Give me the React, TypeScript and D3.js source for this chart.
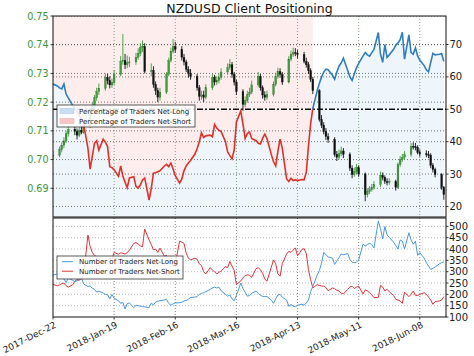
import React from "react";
import * as d3 from "d3";

// ---------- DATA ----------
const firstOpen = 0.701;
const closes = [0.7015,
  0.7035, 0.7050, 0.7065, 0.7090, 0.7105,
  0.7098, 0.7085, 0.7102, 0.7095, 0.7118,
  0.7168, 0.7185, 0.7215, 0.7237, 0.7248,
  0.7286, 0.7275, 0.7260, 0.7268, 0.7297,
  0.7342, 0.7345, 0.7330, 0.7338, 0.7340,
  0.7356, 0.7370, 0.7390, 0.7394, 0.7307,
  0.7310, 0.7262, 0.7240, 0.7217, 0.7235,
  0.7297, 0.7345, 0.7377, 0.7394, 0.7384,
  0.7356, 0.7340, 0.7314, 0.7300, 0.7290,
  0.7250, 0.7220, 0.7225, 0.7217, 0.7250,
  0.7286, 0.7270, 0.7275, 0.7286, 0.7305,
  0.7320, 0.7330, 0.7297, 0.7270, 0.7237,
  0.7192, 0.7205, 0.7227, 0.7235, 0.7260,
  0.7290, 0.7250, 0.7225, 0.7217, 0.7227,
  0.7262, 0.7290, 0.7307, 0.7297, 0.7270,
  0.7350, 0.7367, 0.7373, 0.7370, 0.7366,
  0.7342, 0.7330, 0.7310, 0.7280, 0.7240,
  0.7140, 0.7120, 0.7098, 0.7080, 0.7070,
  0.7018, 0.7008, 0.7020, 0.7030, 0.7018,
  0.6970, 0.6948, 0.6958, 0.6972, 0.6950,
  0.6878, 0.6889, 0.6895, 0.6903, 0.6913,
  0.6945, 0.6938, 0.6924, 0.6920, 0.6924,
  0.6903, 0.6983, 0.7000, 0.7008, 0.7018,
  0.7046, 0.7045, 0.7043, 0.7025, 0.7020,
  0.7018, 0.7015, 0.6980, 0.6965, 0.6948,
  0.6903, 0.6878];
const highs = [0.7030,
  0.7045, 0.7060, 0.7078, 0.7100, 0.7118,
  0.7115, 0.7108, 0.7112, 0.7118, 0.7130,
  0.7175, 0.7198, 0.7225, 0.7250, 0.7265,
  0.7300, 0.7298, 0.7290, 0.7282, 0.7312,
  0.7360, 0.7437, 0.7368, 0.7362, 0.7358,
  0.7372, 0.7388, 0.7405, 0.7415, 0.7405,
  0.7335, 0.7325, 0.7272, 0.7250, 0.7250,
  0.7305, 0.7355, 0.7390, 0.7420, 0.7410,
  0.7395, 0.7368, 0.7348, 0.7325, 0.7315,
  0.7298, 0.7260, 0.7240, 0.7240, 0.7262,
  0.7298, 0.7295, 0.7290, 0.7300, 0.7318,
  0.7335, 0.7350, 0.7340, 0.7305, 0.7278,
  0.7245, 0.7220, 0.7240, 0.7250, 0.7275,
  0.7305, 0.7298, 0.7258, 0.7238, 0.7240,
  0.7272, 0.7302, 0.7320, 0.7318, 0.7305,
  0.7360, 0.7380, 0.7390, 0.7388, 0.7382,
  0.7375, 0.7355, 0.7340, 0.7318, 0.7288,
  0.7245, 0.7155, 0.7130, 0.7110, 0.7092,
  0.7078, 0.7030, 0.7035, 0.7045, 0.7040,
  0.7025, 0.6980, 0.6972, 0.6985, 0.6980,
  0.6955, 0.6900, 0.6908, 0.6915, 0.6925,
  0.6958, 0.6955, 0.6945, 0.6935, 0.6935,
  0.6930, 0.6990, 0.7012, 0.7020, 0.7030,
  0.7058, 0.7060, 0.7058, 0.7050, 0.7035,
  0.7032, 0.7030, 0.7022, 0.6988, 0.6972,
  0.6952, 0.6908];
const lows = [0.7000,
  0.7008, 0.7025, 0.7040, 0.7058, 0.7080,
  0.7085, 0.7070, 0.7078, 0.7088, 0.7090,
  0.7110, 0.7160, 0.7178, 0.7205, 0.7225,
  0.7240, 0.7262, 0.7248, 0.7250, 0.7260,
  0.7290, 0.7330, 0.7315, 0.7318, 0.7322,
  0.7330, 0.7348, 0.7360, 0.7375, 0.7300,
  0.7290, 0.7250, 0.7225, 0.7200, 0.7205,
  0.7228, 0.7290, 0.7338, 0.7370, 0.7372,
  0.7345, 0.7328, 0.7305, 0.7285, 0.7278,
  0.7240, 0.7205, 0.7208, 0.7200, 0.7210,
  0.7242, 0.7258, 0.7260, 0.7265, 0.7278,
  0.7295, 0.7312, 0.7285, 0.7258, 0.7225,
  0.7170, 0.7182, 0.7198, 0.7218, 0.7228,
  0.7252, 0.7240, 0.7212, 0.7205, 0.7208,
  0.7220, 0.7255, 0.7282, 0.7285, 0.7260,
  0.7265, 0.7342, 0.7358, 0.7360, 0.7352,
  0.7335, 0.7320, 0.7298, 0.7270, 0.7228,
  0.7132, 0.7110, 0.7088, 0.7068, 0.7058,
  0.7010, 0.6995, 0.7000, 0.7012, 0.7005,
  0.6960, 0.6935, 0.6940, 0.6950, 0.6940,
  0.6855, 0.6868, 0.6880, 0.6888, 0.6895,
  0.6905, 0.6928, 0.6915, 0.6910, 0.6912,
  0.6892, 0.6898, 0.6975, 0.6992, 0.7000,
  0.7010, 0.7035, 0.7032, 0.7018, 0.7010,
  0.7008, 0.7005, 0.6970, 0.6955, 0.6938,
  0.6895, 0.6860];

const pctLong = [57.8,
  57.2, 56.6, 56.3, 57.8, 54.7, 53.5,
  51.2, 50.2, 49.3, 48.2, 47.0, 45.5,
  38.0, 31.5, 35.5, 39.5, 40.3, 37.4,
  40.8, 39.8, 38.5, 32.3, 32.0, 31.3,
  29.3, 32.5, 29.3, 27.5, 25.8, 28.8,
  29.2, 26.2, 25.7, 26.6, 28.2, 28.8,
  22.0, 25.5, 30.3, 30.4, 30.7, 31.0,
  32.5, 33.0, 32.3, 33.4, 31.6, 29.5,
  27.2, 28.5, 31.0, 32.5, 33.4, 34.2,
  36.2, 37.8, 40.0, 42.7, 41.3, 41.8,
  42.0, 41.5, 45.3, 44.2, 43.5, 43.1,
  40.0, 36.8, 35.7, 34.7, 37.5, 46.0,
  49.5, 45.5, 41.0, 42.5, 43.0, 41.0,
  40.3, 39.5, 39.3, 41.0, 42.3, 41.0,
  36.0, 33.8, 32.5, 37.0, 40.8, 38.0,
  28.5, 27.7, 28.7, 28.0, 28.2, 28.0,
  28.3, 28.2, 30.5, 38.5, 45.5, 50.3,
  55.7, 58.0, 60.0, 61.5, 62.4, 62.2,
  60.5, 59.3, 61.5, 63.3, 64.3, 65.8,
  62.0, 60.0, 58.9, 61.0, 62.8, 64.2,
  66.5, 67.5, 66.8, 66.4, 67.5, 68.5,
  73.7, 67.0, 64.5, 70.0, 66.0, 66.8,
  68.5, 69.8, 70.5, 71.5, 73.8, 65.5,
  73.0, 67.5, 67.0, 69.0, 66.5, 65.2,
  63.5, 62.2, 61.6, 64.5, 67.3, 66.8,
  67.0, 67.2, 64.8];

const tradersLong = [285,
  290, 292, 280, 268, 252, 272,
  262, 256, 260, 266, 275, 246,
  235, 237, 227, 222, 210, 214,
  206, 200, 198, 180, 200, 182,
  172, 160, 165, 135, 160, 162,
  141, 152, 150, 148, 146, 145,
  141, 161, 153, 165, 170, 172,
  175, 178, 160, 152, 158, 162,
  163, 165, 171, 173, 178, 186,
  188, 190, 200, 204, 208, 212,
  222, 228, 232, 228, 232, 216,
  200, 192, 197, 180, 172, 195,
  250, 225, 210, 192, 195, 205,
  214, 205, 196, 191, 190, 190,
  175, 160, 180, 197, 200, 188,
  175, 147, 155, 148, 145, 152,
  156, 152, 162, 175, 212, 235,
  285, 305, 338, 385, 375, 365,
  360, 332, 348, 362, 378, 375,
  380, 354, 342, 340, 342, 352,
  422, 413, 420, 425, 420, 405,
  523, 490, 445, 500, 462, 452,
  430, 415, 400, 440, 435, 400,
  472, 440, 421, 435, 372, 384,
  360, 340, 325, 310, 315, 320,
  335, 340, 343];

const tradersShort = [244,
  238, 242, 247, 250, 238, 232,
  242, 258, 265, 262, 270, 285,
  462, 412, 385, 372, 366, 355,
  345, 338, 352, 360, 355, 385,
  377, 383, 381, 378, 384, 395,
  425, 428, 422, 414, 410, 488,
  440, 420, 397, 399, 385, 404,
  368, 372, 360, 340, 325, 335,
  435, 430, 425, 382, 360, 352,
  360, 355, 335, 328, 300, 290,
  318, 307, 300, 290, 297, 303,
  322, 318, 345, 325, 305, 243,
  259, 272, 283, 286, 284, 275,
  313, 318, 308, 293, 268, 258,
  320, 352, 335, 290, 280, 335,
  378, 390, 385, 395, 405, 370,
  398, 402, 380, 310, 265, 228,
  243, 239, 237, 236, 230, 216,
  228, 225, 218, 215, 205, 202,
  222, 233, 236, 226, 232, 236,
  202, 220, 215, 207, 198, 186,
  186, 240, 232, 215, 222, 212,
  195, 178, 175, 171, 160, 210,
  190, 200, 215, 195, 195, 200,
  207, 200, 188, 175, 156, 168,
  171, 175, 190];

const tickDates = ["2017-12-22", "2018-01-19", "2018-02-16", "2018-03-16", "2018-04-13", "2018-05-11", "2018-06-08"];
const tickLabels = ["2017-Dec-22", "2018-Jan-19", "2018-Feb-16", "2018-Mar-16", "2018-Apr-13", "2018-May-11", "2018-Jun-08"];
const priceTicks = [0.69, 0.70, 0.71, 0.72, 0.73, 0.74, 0.75];
const pctTicks = [20, 30, 40, 50, 60, 70];
const countTicks = [100, 150, 200, 250, 300, 350, 400, 450, 500];

// ---------- helpers ----------
function parseD(s: string) {
  const [y, m, d] = s.split("-").map(Number);
  return new Date(y, m - 1, d);
}
function genDates(n: number, keep: (wd: number) => boolean) {
  const out: Date[] = [];
  let d = new Date(2017, 11, 22);
  while (out.length < n) {
    if (keep(d.getDay())) out.push(new Date(d));
    d = new Date(d.getFullYear(), d.getMonth(), d.getDate() + 1);
  }
  return out;
}

const FONT = "DejaVu Sans";

export default function App() {
  const L = 53, R = 446, T1 = 16, B1 = 217, T2 = 218, B2 = 317;
  const candleDates = genDates(closes.length, (wd) => wd >= 1 && wd <= 5);
  const sentDates = genDates(pctLong.length, (wd) => wd !== 6);

  const x = d3.scaleTime().domain([new Date(2017, 11, 22), new Date(2018, 5, 20)]).range([L, R]);
  const yP = d3.scaleLinear().domain([0.68, 0.75]).range([B1, T1]);
  const yPct = d3.scaleLinear().domain([16.75, 78.8]).range([B1, T1]);
  const yC = d3.scaleLinear().domain([100, 537]).range([B2, T2]);

  const idx = d3.range(pctLong.length);
  const lastShort = d3.max(idx.filter((i) => pctLong[i] < 50)) ?? 0;
  const pinkIdx = idx.filter((i) => i <= Math.min(lastShort + 1, idx.length - 1));

  const areaAbove = d3.area<number>().x((i) => x(sentDates[i])).y0(T1).y1((i) => yPct(pctLong[i]));
  const areaBelow = d3.area<number>().x((i) => x(sentDates[i])).y0(B1).y1((i) => yPct(pctLong[i]));
  const pctLine = d3.line<number>().x((i) => x(sentDates[i])).y((i) => yPct(pctLong[i]));
  const longLine = d3.line<number>().x((i) => x(sentDates[i])).y((i) => yC(tradersLong[i]));
  const shortLine = d3.line<number>().x((i) => x(sentDates[i])).y((i) => yC(tradersShort[i]));

  const y50 = yPct(50);
  const green = "#3f9c3c";

  return (
    <svg width={474} height={356} style={{ position: "absolute", left: 0, top: 0, display: "block" }} fontFamily={FONT}>
      <defs>
        <clipPath id="top"><rect x={L} y={T1} width={R - L} height={B1 - T1} /></clipPath>
        <clipPath id="bot"><rect x={L} y={T2} width={R - L} height={B2 - T2} /></clipPath>
        <clipPath id="above50"><rect x={L} y={T1} width={R - L} height={y50 - T1} /></clipPath>
        <clipPath id="below50"><rect x={L} y={y50} width={R - L} height={B1 - y50} /></clipPath>
      </defs>
      <rect x={0} y={0} width={474} height={356} fill="#fff" />
      <text x={(L + R) / 2} y={12.5} textAnchor="middle" fontSize={12.5} fill="#111">NZDUSD Client Positioning</text>

      {/* ---------- top panel ---------- */}
      <g clipPath="url(#top)">
        <path d={areaAbove(pinkIdx) || ""} fill="#fdeded" />
        <path d={areaBelow(idx) || ""} fill="#eef5fb" />
        {priceTicks.map((t) => (
          <line key={"pg" + t} x1={L} x2={R} y1={yP(t)} y2={yP(t)} stroke="#555" strokeWidth={0.8} strokeDasharray="1,2" />
        ))}
        {pctTicks.filter((t) => t !== 50).map((t) => (
          <line key={"cg" + t} x1={L} x2={R} y1={yPct(t)} y2={yPct(t)} stroke="#555" strokeWidth={0.8} strokeDasharray="1,2" />
        ))}
        {tickDates.slice(1).map((t) => (
          <line key={"vg" + t} x1={x(parseD(t))} x2={x(parseD(t))} y1={T1} y2={B1} stroke="#5f8f5f" strokeWidth={0.8} strokeDasharray="1,2" />
        ))}
        {closes.map((c, i) => {
          const o = i === 0 ? firstOpen : closes[i - 1];
          const up = c >= o;
          const col = up ? green : "#111";
          const cx = x(candleDates[i]);
          const top = yP(Math.max(o, c));
          const h = Math.max(0.8, Math.abs(yP(o) - yP(c)));
          return (
            <g key={"c" + i}>
              <line x1={cx} x2={cx} y1={yP(highs[i])} y2={yP(lows[i])} stroke={col} strokeWidth={0.9} />
              <rect x={cx - 0.9} y={top} width={1.8} height={h} fill={col} stroke={up ? "#2d6b2b" : "#111"} strokeWidth={0.3} />
            </g>
          );
        })}
        <line x1={L} x2={R} y1={y50} y2={y50} stroke="#111" strokeWidth={1.5} strokeDasharray="6,2,2,2" />
        <path d={pctLine(idx) || ""} fill="none" stroke="#2e7dc0" strokeWidth={1.6} clipPath="url(#above50)" />
        <path d={pctLine(idx) || ""} fill="none" stroke="#e0302a" strokeWidth={1.6} clipPath="url(#below50)" />
      </g>
      {/* top legend */}
      <g>
        <rect x={57} y={105} width={138} height={22} fill="#fff" fillOpacity={0.85} stroke="#333" strokeWidth={0.8} />
        <rect x={60} y={108.5} width={14} height={5} fill="#c9def2" stroke="#a9c8e6" strokeWidth={0.5} />
        <text x={79} y={114} fontSize={7} fill="#222">Percentage of Traders Net-Long</text>
        <rect x={60} y={118.5} width={14} height={5} fill="#f8c6c6" stroke="#f0a8a8" strokeWidth={0.5} />
        <text x={79} y={124} fontSize={7} fill="#222">Percentage of Traders Net-Short</text>
      </g>
      <rect x={L} y={T1} width={R - L} height={B1 - T1} fill="none" stroke="#111" strokeWidth={1} />
      {priceTicks.map((t) => (
        <g key={"pl" + t}>
          <line x1={L - 2.5} x2={L} y1={yP(t)} y2={yP(t)} stroke="#111" strokeWidth={0.8} />
          <text x={48.5} y={yP(t) + 3.5} textAnchor="end" fontSize={9.6} fill="#3a963a">{t.toFixed(2)}</text>
        </g>
      ))}
      {pctTicks.map((t) => (
        <g key={"cl" + t}>
          <line x1={R} x2={R + 2.5} y1={yPct(t)} y2={yPct(t)} stroke="#111" strokeWidth={0.8} />
          <text x={449.5} y={yPct(t) + 3.6} textAnchor="start" fontSize={10} fill="#222">{t}</text>
        </g>
      ))}

      {/* ---------- bottom panel ---------- */}
      <g clipPath="url(#bot)">
        {countTicks.slice(1).map((t) => (
          <line key={"bg" + t} x1={L} x2={R} y1={yC(t)} y2={yC(t)} stroke="#aaa" strokeWidth={0.8} strokeDasharray="1,2" />
        ))}
        {tickDates.slice(1).map((t) => (
          <line key={"bv" + t} x1={x(parseD(t))} x2={x(parseD(t))} y1={T2} y2={B2} stroke="#666" strokeWidth={0.8} strokeDasharray="1,2" />
        ))}
        <path d={shortLine(idx) || ""} fill="none" stroke="#e2333b" strokeWidth={1} />
        <path d={longLine(idx) || ""} fill="none" stroke="#4a98e0" strokeWidth={1} />
      </g>
      <g>
        <rect x={57} y={256} width={126} height={23} fill="#fff" fillOpacity={0.85} stroke="#333" strokeWidth={0.8} />
        <line x1={62} x2={73} y1={261.7} y2={261.7} stroke="#4a98e0" strokeWidth={1} />
        <text x={79} y={264.2} fontSize={7} fill="#222">Number of Traders Net-Long</text>
        <line x1={62} x2={73} y1={271.2} y2={271.2} stroke="#e2333b" strokeWidth={1} />
        <text x={79} y={273.7} fontSize={7} fill="#222">Number of Traders Net-Short</text>
      </g>
      <rect x={L} y={T2} width={R - L} height={B2 - T2} fill="none" stroke="#111" strokeWidth={1} />
      {countTicks.map((t) => (
        <g key={"bl" + t}>
          <line x1={R} x2={R + 2.5} y1={yC(t)} y2={yC(t)} stroke="#111" strokeWidth={0.8} />
          <text x={449} y={yC(t) + 3.6} textAnchor="start" fontSize={10} fill="#222">{t}</text>
        </g>
      ))}
      {tickDates.map((t, i) => {
        const tx = x(parseD(t));
        return (
          <g key={"xt" + t}>
            <line x1={tx} x2={tx} y1={B2} y2={B2 + 2.5} stroke="#111" strokeWidth={0.8} />
            <text transform={`translate(${tx + 1},${B2 + 4}) rotate(-27)`} dy="0.72em" textAnchor="end" fontSize={9} fill="#222">{tickLabels[i]}</text>
          </g>
        );
      })}
    </svg>
  );
}
